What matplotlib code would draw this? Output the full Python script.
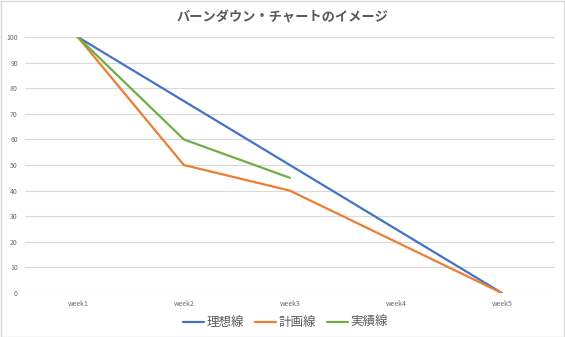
import matplotlib
matplotlib.use("Agg")
import matplotlib.pyplot as plt

plt.rcParams['font.family'] = ['Noto Sans CJK JP', 'DejaVu Sans']

weeks = ["week1", "week2", "week3", "week4", "week5"]
ideal = [100, 75, 50, 25, 0]
plan = [100, 50, 40, 20, 0]
actual = [100, 60, 45]

series = [
    ("理想線", ideal, "#4472C4"),
    ("計画線", plan, "#ED7D31"),
    ("実績線", actual, "#70AD47"),
]

fig = plt.figure(figsize=(5.65, 3.37), dpi=100)
ax = fig.add_axes([0.044, 0.1306, 0.938, 0.7594])

x = list(range(len(weeks)))
for name, vals, color in series:
    ax.plot(x[:len(vals)], vals, color=color, lw=1.6, label=name,
            solid_joinstyle="round", solid_capstyle="round", zorder=3)

ax.set_xlim(-0.5, len(weeks) - 0.5)
ax.set_ylim(0, 100)
ax.set_yticks(range(0, 101, 10))
ax.set_xticks(x)
ax.set_xticklabels(weeks)
ax.tick_params(length=0, labelsize=5, colors="#6a6a6a", pad=5)
ax.yaxis.grid(True, color="#d9d9d9", lw=0.8)
for s in ax.spines.values():
    s.set_visible(False)
ax.set_axisbelow(True)

fig.suptitle("バーンダウン・チャートのイメージ", y=0.968, fontsize=9.5,
             fontweight="semibold", color="#595959")

fig.legend(loc="lower center", bbox_to_anchor=(0.505, -0.01), ncol=3,
           frameon=False, fontsize=9, handlelength=1.7, handletextpad=0.15,
           columnspacing=0.9, labelcolor="#595959")

fig.patches.append(plt.Rectangle((0.001, 0.001), 0.997, 0.996,
                                 transform=fig.transFigure, fill=False,
                                 edgecolor="#d9d9d9", lw=1))

fig.savefig("out.png", dpi=100)
